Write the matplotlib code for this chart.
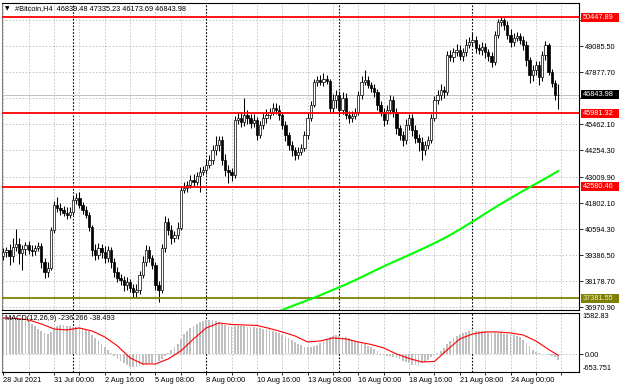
import matplotlib
matplotlib.use('Agg')
import matplotlib.pyplot as plt
from matplotlib import transforms
from matplotlib.patches import Rectangle

plt.rcParams['font.family'] = ['Liberation Sans', 'DejaVu Sans']

# ---------------- data ----------------
first_open = 39350
closes = [39540, 39633, 39354, 39772, 39911, 39493, 39679, 39865, 39633, 39586, 39725, 39818,
          39075, 38611, 38796,
          40562, 41723,
          41583, 41491, 41351, 41258, 41398,
          41955, 42048, 41723,
          41491, 41258, 40701,
          39633,
          39400, 39725, 39540, 39261, 39633,
          39075, 38611, 38332, 38239,
          38007, 38146, 37867, 37682, 37775,
          38471, 39075, 39633,
          39261, 38936,
          38007, 37775,
          39725, 40933,
          40562, 40190, 40329, 40654,
          42420,
          42512, 42652, 42884, 42791, 43070, 43256, 43349, 43581, 43813,
          44278, 44510, 44742,
          43813, 43349, 43256, 43116,
          45671,
          45764, 45578, 45903, 45764, 45532, 45671,
          44974,
          45439, 45764, 45903, 46043, 46228,
          46150, 45903, 45439, 44974, 44510,
          44278, 44045, 44185, 44370,
          44974, 45764, 46368,
          47436,
          47529, 47436, 47576, 47483,
          46228,
          46600, 46832, 46136, 46693,
          45903, 45764, 45857, 46043,
          46832, 47436, 47529,
          47297, 47157, 46972,
          46368, 46043, 45671, 46136,
          46600, 46043,
          45299, 44974, 44742,
          45439, 45764, 45207, 44835,
          44649, 44278, 44510, 44742,
          45764,
          46600, 46832, 47065, 46972,
          48690,
          48600, 48830, 48923, 48644, 48830,
          49155, 49294, 49387, 49015,
          48923, 49062, 48830, 48644, 48365,
          49619,
          50223, 50316, 50084,
          49619, 49294, 49480, 49573,
          49387, 49155,
          48458, 47761,
          47993, 48226, 47668,
          48690, 49155,
          47901, 47390,
          46839.48,
          46843.98]

upper_wick = [200, 150, 300, 400, 700, 300, 200, 150, 200, 250, 150, 200,
              150, 200, 300,
              150, 200,
              350, 250, 200, 300, 250,
              200, 230, 300,
              150, 200, 150,
              100,
              300, 250, 200, 300, 200,
              150, 200, 250, 200,
              200, 250, 150, 200, 300,
              200, 300, 250,
              200, 150,
              150, 200,
              200, 300,
              200, 250, 200, 300,
              150,
              300, 200, 250, 300, 200, 250, 200, 300, 250,
              250, 400, 200,
              200, 300, 250, 200,
              200,
              300, 250, 790, 250, 200, 300,
              150,
              200, 250, 300, 200, 250,
              250, 200, 150, 200, 150,
              200, 150, 250, 200,
              200, 250, 200,
              150,
              200, 250, 280, 200,
              100,
              300, 250, 200, 300,
              250, 200, 250, 200,
              200, 300, 460,
              200, 150, 200,
              150, 200, 200, 250,
              250, 200,
              200, 150, 200,
              300, 200, 200, 250,
              200, 250, 200, 200,
              200,
              200, 250, 300, 200,
              200,
              250, 200, 300, 250, 200,
              300, 250, 325, 200,
              200, 250, 200, 150, 200,
              200,
              150, 140, 100,
              200, 300, 250, 200,
              150, 200,
              200, 150,
              250, 200, 200,
              200, 200,
              95, 150,
              150,
              491.25]

lower_wick = [200, 250, 400, 300, 200, 500, 800, 300, 200, 250, 200, 150,
              300, 300, 250,
              100, 150,
              200, 250, 150, 200, 150,
              150, 200, 150,
              200, 150, 200,
              300,
              250, 200, 300, 250, 200,
              300, 250, 200, 250,
              300, 250, 200, 300, 230,
              200, 150, 200,
              200, 200,
              250, 560,
              150, 200,
              250, 300, 200, 200,
              100,
              150, 200, 150, 200, 150, 750, 150, 200, 150,
              200, 250, 300,
              250, 300, 510, 300,
              150,
              200, 250, 200, 300, 250, 200,
              250,
              150, 200, 250, 200, 150,
              200, 250, 200, 300, 250,
              300, 230, 200, 150,
              150, 200, 150,
              100,
              200, 150, 200, 150,
              200,
              250, 350, 250, 200,
              200, 250, 200, 150,
              150, 200, 150,
              150, 200, 250,
              250, 200, 300, 200,
              200, 250,
              300, 250, 300,
              200, 250, 300, 250,
              400, 465, 250, 200,
              150,
              150, 200, 250, 300,
              150,
              200, 250, 200, 200, 250,
              200, 150, 200, 250,
              200, 250, 300, 250, 230,
              150,
              150, 200, 250,
              200, 250, 200, 150,
              200, 250,
              300, 350,
              300, 250, 350,
              200, 250,
              150, 200,
              250,
              665.79]

ma_x = [84, 88, 92, 96, 100, 104, 108, 112, 116, 120, 124, 128, 132, 136, 140,
        144, 148, 152, 156, 160, 164, 168, 172, 175]
ma_v = [36613, 36846, 37080, 37300, 37530, 37780, 38030, 38300, 38590, 38870, 39140,
        39400, 39670, 39950, 40250, 40590, 40950, 41320, 41690, 42040, 42380, 42710,
        43040, 43300]

macd_hist = [1370, 1380, 1360, 1350, 1330, 1310, 1280, 1260, 1220,
             1150, 1060, 970, 890, 820, 780,
             840, 970, 1060, 1100, 1110, 1090,
             1060, 1050, 1040, 1030, 1010, 970,
             870, 740, 600, 500, 380, 270,
             150, 40, -80, -180, -270, -350, -420, -470, -500,
             -500, -460, -410, -370, -350, -340, -310,
             -270, -180, -70, 40, 160, 270, 370,
             580, 750, 890, 990, 1080, 1150, 1210, 1270, 1300,
             1310, 1290, 1260, 1210, 1150, 1100, 1060, 1040,
             1060, 1090, 1080, 1070, 1050, 1030, 1020, 1000, 990, 970, 970,
             940, 890, 840, 800, 740, 670, 600, 530, 460, 400, 340, 290, 270,
             270, 300, 350,
             430, 510, 580, 660, 710, 720, 700,
             670, 640, 600, 550, 500, 460, 430, 380, 330, 270, 190,
             130, 50, -20, -50, -80, -110, -140,
             -190, -260, -310, -350, -390, -420, -410,
             -350, -280, -200, -120, -40, 40,
             130, 250, 370, 500, 600, 690, 760, 820, 850,
             890, 910, 900,
             890, 870, 840, 820, 820, 810, 800, 790, 780, 760, 740, 730, 710,
             640, 530, 420, 310,
             180, 80,
             40, 10, 0, -20, -50, -120, -236.266]

sig_x = list(range(0, 173, 4)) + [175]
sig_v = [1376, 1357, 1300, 1148, 959, 921, 997, 883, 656, 315, -140, -368, -368, -178,
         125, 580, 997, 1186, 1129, 1110, 1092, 978, 845, 694, 466, 504, 618, 580, 466,
         371, 239, 11, -159, -292, -273, 163, 580, 769, 845, 845, 807, 731, 504, 182,
         -38.493]

price_ticks = [36970.90, 38178.70, 39386.50, 40594.30, 41802.10, 43009.90, 44254.30,
               45462.10, 46669.90, 47877.70, 49085.50, 50293.30]
hidden_ticks = [46669.90, 50293.30]
levels_red = [50447.89, 45981.32, 42580.46]
level_olive = 37381.55
bid = 46843.98
macd_max, macd_min = 1582.83, -653.751

time_labels = ['28 Jul 2021', '31 Jul 00:00', '2 Aug 16:00', '5 Aug 08:00', '8 Aug 00:00',
               '10 Aug 16:00', '13 Aug 08:00', '16 Aug 00:00', '18 Aug 16:00',
               '21 Aug 08:00', '24 Aug 00:00']
label_idx = [0, 16, 32, 48, 64, 80, 96, 112, 128, 144, 160]
separators = [22, 64, 106, 148]

header = '#Bitcoin,H4  46839.48 47335.23 46173.69 46843.98'
macd_title = 'MACD(12,26,9) -236.266 -38.493'

# ---------------- figure ----------------
W, H = 620, 388
fig = plt.figure(figsize=(6.2, 3.88), dpi=100)
fig.patch.set_facecolor('white')


def rect(x0, y0, x1, y1):
    return [x0 / W, 1 - y1 / H, (x1 - x0) / W, (y1 - y0) / H]


ax = fig.add_axes(rect(2, 3, 579, 310))
ax2 = fig.add_axes(rect(2, 312.5, 579, 371.5))

FS = 5.3
GRID = dict(color='#c0c0c0', linestyle=(0, (2, 2)), linewidth=0.6)
XMIN, XMAX = -0.41, 181.6

n = len(closes)
idx = list(range(n))
opens = [first_open] + closes[:-1]
highs = [max(o, c) + u for o, c, u in zip(opens, closes, upper_wick)]
lows = [min(o, c) - l for o, c, l in zip(opens, closes, lower_wick)]

# grid
for a in (ax, ax2):
    a.set_xlim(XMIN, XMAX)
    a.set_xticks(range(0, 177, 8))
    a.grid(True, axis='x', **GRID)
    a.set_axisbelow(True)
    for s in separators:
        a.axvline(s, color='black', linestyle=(0, (1.5, 1.5)), linewidth=0.8, zorder=1)
    for sp in a.spines.values():
        sp.set_color('black')
        sp.set_linewidth(0.8)
    a.spines['left'].set_color('#808080')

# main panel
ax.set_ylim(36845.5, 51105.6)
ax.yaxis.tick_right()
ax.set_yticks(price_ticks)
ax.set_yticklabels(['' if v in hidden_ticks else f'{v:.2f}' for v in price_ticks])
ax.tick_params(axis='y', length=3, width=0.6, pad=1.2, labelsize=FS, direction='out')
ax.tick_params(axis='x', length=0, labelbottom=False)
ax.grid(True, axis='y', **GRID)

ax.axhline(bid, color='#c0c0c0', linewidth=0.7, zorder=2)
ax.vlines(idx, lows, highs, color='black', linewidth=0.75, zorder=3)
body_bottom = [min(o, c) for o, c in zip(opens, closes)]
body_h = [max(abs(c - o), 15) for o, c in zip(opens, closes)]
body_col = ['white' if c >= o else 'black' for o, c in zip(opens, closes)]
ax.bar(idx, body_h, bottom=body_bottom, width=0.72, color=body_col,
       edgecolor='black', linewidth=0.5, zorder=4)

for lv in levels_red:
    ax.axhline(lv, color='#ff0000', linewidth=1.3, zorder=5)
ax.axhline(level_olive, color='#808000', linewidth=1.3, zorder=5)
ax.plot(ma_x, ma_v, color='#00ff00', linewidth=1.5, zorder=5)

# price boxes on the right scale
tr = transforms.blended_transform_factory(fig.transFigure, ax.transData)
half = 4.6 * (51105.6 - 36845.5) / 307.0
boxes = [(v, '#ff0000', 'white') for v in levels_red] + \
        [(bid, 'black', 'white'), (level_olive, '#808000', '#f0f0d0')]
for v, fc, tc in boxes:
    r = Rectangle((580.5 / W, v - half), 38.5 / W, 2 * half, transform=tr,
                  facecolor=fc, edgecolor='none', zorder=10)
    fig.add_artist(r)
    fig.text(582.5 / W, v, f'{v:.2f}', transform=tr, color=tc, fontsize=FS,
             ha='left', va='center', zorder=11)

# MACD panel
ax2.set_ylim(macd_min, macd_max)
ax2.bar(idx, macd_hist, width=0.55, color='#c0c0c0', zorder=2)
ax2.plot(sig_x, sig_v, color='#ff0000', linewidth=0.8, zorder=3)
ax2.yaxis.tick_right()
ax2.set_yticks([0])
ax2.set_yticklabels(['0.00'])
ax2.grid(True, axis='y', **GRID)
ax2.tick_params(axis='y', length=3, width=0.6, pad=1.2, labelsize=FS, direction='out')
tr2 = transforms.blended_transform_factory(ax2.transAxes, ax2.transData)
ax2.text(1.006, macd_max, f'{macd_max:.2f}', transform=tr2, fontsize=FS,
         ha='left', va='top', clip_on=False)
ax2.text(1.006, macd_min, f'{macd_min:.3f}', transform=tr2, fontsize=FS,
         ha='left', va='bottom', clip_on=False)
ax2.text(0.005, 0.9, macd_title, transform=ax2.transAxes, fontsize=FS,
         ha='left', va='center', zorder=6)

xt = list(range(0, 177, 8))
xl = [time_labels[label_idx.index(t)] if t in label_idx else '' for t in xt]
ax2.set_xticklabels(xl)
ax2.tick_params(axis='x', length=2, width=0.6, pad=2, labelsize=FS, direction='out')
for lbl in ax2.get_xticklabels():
    lbl.set_ha('left')

# header
fig.text(4.5 / W, 1 - 8.5 / H, '\u25bc', fontsize=4.2, ha='left', va='center',
         family=['DejaVu Sans'])
fig.text(15 / W, 1 - 8.5 / H, header, fontsize=FS, ha='left', va='center')

fig.savefig('out.png', dpi=100, facecolor='white')
